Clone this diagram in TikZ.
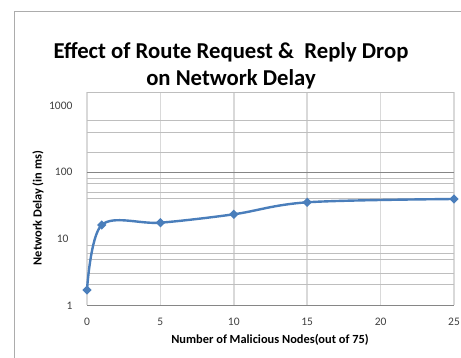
\documentclass[tikz,border=0pt]{standalone}
\usepackage{fontspec}
\setmainfont{Carlito}
\usetikzlibrary{shapes.geometric}
\definecolor{xlblue}{RGB}{74,126,187}
\definecolor{gridgray}{RGB}{217,217,217}
\definecolor{minorgray}{RGB}{190,190,190}
\definecolor{majorgray}{RGB}{134,134,134}

\begin{document}
\begin{tikzpicture}[x=1pt,y=-1pt,
    vline/.style={draw=gridgray, line width=1.6pt},
    hline/.style={draw=minorgray, line width=1pt},
    major/.style={draw=majorgray, line width=1pt},
    serie/.style={draw=xlblue, line width=2.4pt, line cap=round, line join=round},
    dia/.style={diamond, fill=xlblue, inner sep=0pt, minimum size=9.5pt},
    tick/.style={font=\fontsize{11.5}{13}\selectfont, text=black!75},
    lab/.style={font=\bfseries\fontsize{12.4}{14}\selectfont},
]
    \useasboundingbox (0,0) rectangle (461,358);
    \fill[white] (0,0) rectangle (461,358);
    \draw[gray!65, line width=1pt] (14.5,358) |- (461,12);

    \node[font=\bfseries\fontsize{22.7}{27}\selectfont, align=center] (title) at (231,66)
        {Effect of Route Request \&~ Reply Drop\\on Network Delay};

    % grid of the plot area
    \foreach \i in {0,...,5}
        \draw[vline] ({87+73.4*\i},92.3) -- ({87+73.4*\i},305.5);
    \foreach \y in {92.3,120.3,132.3,152.3,178.3,183.3,192.7,198.3,245.3,253.3,259.3,273.3,285}
        \draw[hline] (87,\y) -- (454,\y);
    \draw[major] (87,172.3) -- (454,172.3);
    \draw[major] (87,305.5) -- (454,305.5);

    % tick labels
    \foreach \v [count=\i from 0] in {0,5,...,25}
        \node[tick] (x\v) at ({87+73.4*\i},322) {\v};
    \node[tick, anchor=east] (y1000) at (76,106) {1000};
    \node[tick, anchor=east] (y100) at (76,172.3) {100};
    \node[tick, anchor=east] (y10) at (72,238.5) {10};
    \node[tick, anchor=east] (y1) at (76,305.5) {1};

    \node[lab, rotate=90] (ylab) at (38,208) {Network Delay (in ms)};
    \node[lab] (xlab) at (270,340) {Number of Malicious Nodes(out of 75)};

    % delay values
    \coordinate (d0) at (87,290);
    \coordinate (d1) at (101.7,225);
    \coordinate (d5) at (160.4,222.7);
    \coordinate (d10) at (233.8,214.3);
    \coordinate (d15) at (307.2,202.3);
    \coordinate (d25) at (454,199);

    \draw[serie] plot[smooth, tension=0.55] coordinates {(d0) (d1) (d5) (d10) (d15) (d25)};
    \foreach \p in {d0,d1,d5,d10,d15,d25}
        \node[dia] (m\p) at (\p) {};
\end{tikzpicture}
\end{document}
